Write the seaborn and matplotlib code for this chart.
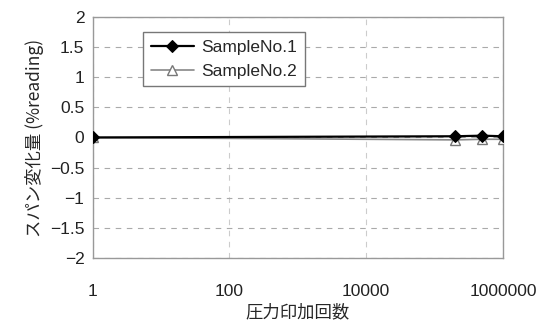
import pandas as pd
import matplotlib
matplotlib.use('Agg')
import matplotlib.pyplot as plt
import seaborn as sns
from matplotlib.ticker import FixedLocator, FixedFormatter, NullLocator

# datos
ciclos = [1, 200000, 500000, 1000000]
sample1 = [0.0, 0.02, 0.03, 0.02]
sample2 = [0.0, -0.04, -0.03, -0.03]
series = ['SampleNo.1', 'SampleNo.2']
xticks = [1, 100, 10000, 1000000]
xtick_labels = ['1', '100', '10000', '1000000']

df = pd.DataFrame({
    'ciclos': ciclos * 2,
    'valor': sample1 + sample2,
    'serie': [series[0]] * len(ciclos) + [series[1]] * len(ciclos),
})

sns.set_style('white')
plt.rcParams['font.family'] = ['Liberation Sans', 'Noto Sans CJK JP', 'DejaVu Sans']

fig = plt.figure(figsize=(5.49, 3.25), dpi=100)
ax = fig.add_axes([0.169, 0.206, 0.747, 0.742])

# SampleNo.2 primero para que quede debajo
d2 = df[df['serie'] == series[1]]
ax.plot(d2['ciclos'], d2['valor'], color='#888888', lw=1.2, marker='^',
        ms=7, mfc='white', mec='#777777', label=series[1], zorder=3)
d1 = df[df['serie'] == series[0]]
sns.lineplot(data=d1, x='ciclos', y='valor', ax=ax, color='black', lw=1.6,
             marker='D', markersize=6, markeredgecolor='black',
             label=series[0], zorder=4)

ax.set_xscale('log')
ax.set_xlim(1, 1000000)
ax.set_ylim(-2, 2)
ax.xaxis.set_major_locator(FixedLocator(xticks))
ax.xaxis.set_major_formatter(FixedFormatter(xtick_labels))
ax.xaxis.set_minor_locator(NullLocator())
ax.set_yticks([-2, -1.5, -1, -0.5, 0, 0.5, 1, 1.5, 2])
ax.set_yticklabels(['−2', '−1.5', '−1', '−0.5', '0', '0.5', '1', '1.5', '2'])

ax.grid(True, axis='y', color='#aaaaaa', ls=(0, (5, 5)), lw=0.8)
ax.grid(True, axis='x', color='#cccccc', ls=(0, (5, 5)), lw=0.8)
for s in ax.spines.values():
    s.set_color('#999999')
    s.set_linewidth(1.0)
ax.tick_params(axis='both', length=0, labelsize=12.5, colors='#222222', pad=6)
ax.tick_params(axis='x', pad=19)

ax.set_xlabel('圧力印加回数', fontsize=12.5, family=['Noto Sans CJK JP'], labelpad=3)
ax.set_ylabel('スパン変化量 (%reading)', fontsize=12.5, family=['Noto Sans CJK JP'], labelpad=4)

handles, labels = ax.get_legend_handles_labels()
order = [labels.index(series[0]), labels.index(series[1])]
leg = ax.legend([handles[i] for i in order], [labels[i] for i in order],
                loc='upper left', bbox_to_anchor=(0.122, 0.938), fontsize=12.5,
                borderaxespad=0, frameon=True, fancybox=False, framealpha=1,
                edgecolor='#777777', borderpad=0.45, handlelength=2.5,
                labelspacing=0.5, handletextpad=0.4)
leg.get_frame().set_linewidth(1.0)

plt.savefig('out.png', dpi=100)
